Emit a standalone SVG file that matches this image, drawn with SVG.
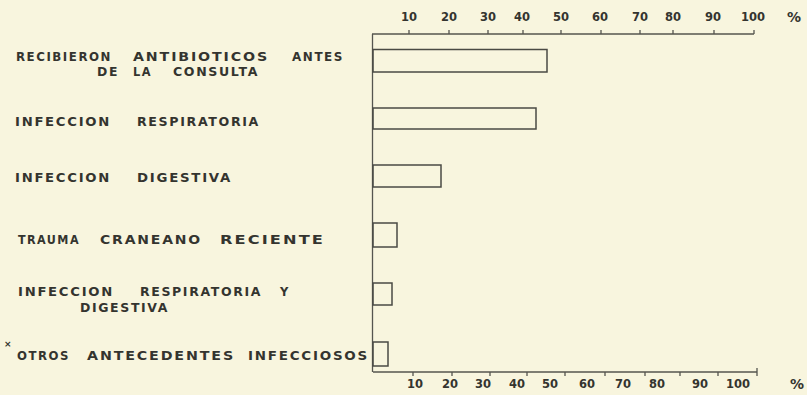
<svg xmlns="http://www.w3.org/2000/svg" width="807" height="395" viewBox="0 0 807 395">
<style>
.bg{fill:#f8f5de}
.lbl{font-family:"DejaVu Sans","Liberation Sans",sans-serif;font-weight:bold;font-size:11.5px;letter-spacing:1.5px;fill:#34342f}
.num{font-family:"DejaVu Sans","Liberation Sans",sans-serif;font-weight:bold;font-size:11.5px;fill:#34342f;text-anchor:middle}
.pct{font-family:"DejaVu Sans","Liberation Sans",sans-serif;font-weight:bold;font-size:14px;fill:#34342f;text-anchor:middle}
.bar{fill:none;stroke:#4a4a44;stroke-width:1.5}
.ax{fill:none;stroke:#55554f;stroke-width:1.3}
.ast{font-family:"DejaVu Sans",sans-serif;font-weight:bold;font-size:9px;fill:#34342f}
</style>
<rect class="bg" x="0" y="0" width="807" height="395"/>

<g id="axes">
  <path class="ax" d="M372.5,34 V372 M372,34 H754 M373,372 H757"/>
  <path class="ax" d="M409,34 v-4 M449,34 v-4 M488,34 v-4 M523,34 v-4 M561,34 v-4 M601,34 v-4 M640,34 v-4 M673,34 v-4 M714,34 v-4 M754,34 v-4"/>
  <path class="ax" d="M413,372 v4 M452,372 v4 M490,372 v4 M527,372 v4 M565,372 v4 M605,372 v4 M645,372 v4 M680,372 v4 M718,372 v4 M757,372 v-4 v8"/>
  <g id="top-scale">
    <text class="num" x="409" y="21">10</text>
    <text class="num" x="449" y="21">20</text>
    <text class="num" x="488" y="21">30</text>
    <text class="num" x="522" y="21">40</text>
    <text class="num" x="561" y="21">50</text>
    <text class="num" x="600" y="21">60</text>
    <text class="num" x="640" y="21">70</text>
    <text class="num" x="673" y="21">80</text>
    <text class="num" x="713" y="21">90</text>
    <text class="num" x="753" y="21">100</text>
    <text class="pct" x="794" y="22">%</text>
  </g>
  <g id="bottom-scale">
    <text class="num" x="415" y="388">10</text>
    <text class="num" x="450" y="388">20</text>
    <text class="num" x="483" y="388">30</text>
    <text class="num" x="517" y="388">40</text>
    <text class="num" x="550" y="388">50</text>
    <text class="num" x="587" y="388">60</text>
    <text class="num" x="623" y="388">70</text>
    <text class="num" x="657" y="388">80</text>
    <text class="num" x="700" y="388">90</text>
    <text class="num" x="738" y="388">100</text>
    <text class="pct" x="797" y="389">%</text>
  </g>
</g>

<g id="bar-antibioticos">
  <rect class="bar" x="373" y="49.5" width="174" height="22.5"/>
  <text class="lbl" y="61"><tspan x="16" textLength="96" lengthAdjust="spacingAndGlyphs">RECIBIERON</tspan><tspan x="133" textLength="136" lengthAdjust="spacingAndGlyphs">ANTIBIOTICOS</tspan><tspan x="292" textLength="52" lengthAdjust="spacingAndGlyphs">ANTES</tspan></text>
  <text class="lbl" y="76"><tspan x="97" textLength="22" lengthAdjust="spacingAndGlyphs">DE</tspan><tspan x="133" textLength="19" lengthAdjust="spacingAndGlyphs">LA</tspan><tspan x="173" textLength="86" lengthAdjust="spacingAndGlyphs">CONSULTA</tspan></text>
</g>

<g id="bar-respiratoria">
  <rect class="bar" x="373" y="108" width="163" height="21"/>
  <text class="lbl" y="126"><tspan x="15" textLength="96" lengthAdjust="spacingAndGlyphs">INFECCION</tspan><tspan x="137" textLength="123" lengthAdjust="spacingAndGlyphs">RESPIRATORIA</tspan></text>
</g>

<g id="bar-digestiva">
  <rect class="bar" x="373" y="165" width="68" height="22"/>
  <text class="lbl" y="182"><tspan x="15" textLength="96" lengthAdjust="spacingAndGlyphs">INFECCION</tspan><tspan x="137" textLength="95" lengthAdjust="spacingAndGlyphs">DIGESTIVA</tspan></text>
</g>

<g id="bar-trauma">
  <rect class="bar" x="373" y="223" width="24" height="24"/>
  <text class="lbl" y="244"><tspan x="18" textLength="62" lengthAdjust="spacingAndGlyphs">TRAUMA</tspan><tspan x="100" textLength="102" lengthAdjust="spacingAndGlyphs">CRANEANO</tspan><tspan x="220" textLength="105" lengthAdjust="spacingAndGlyphs">RECIENTE</tspan></text>
</g>

<g id="bar-resp-dig">
  <rect class="bar" x="373" y="283" width="19" height="22"/>
  <text class="lbl" y="296"><tspan x="18" textLength="96" lengthAdjust="spacingAndGlyphs">INFECCION</tspan><tspan x="140" textLength="122" lengthAdjust="spacingAndGlyphs">RESPIRATORIA</tspan><tspan x="280">Y</tspan></text>
  <text class="lbl" y="312"><tspan x="80" textLength="89" lengthAdjust="spacingAndGlyphs">DIGESTIVA</tspan></text>
</g>

<g id="bar-otros">
  <rect class="bar" x="373" y="342" width="15" height="24"/>
  <text class="ast" x="4" y="347">×</text>
  <text class="lbl" y="360"><tspan x="17" textLength="53" lengthAdjust="spacingAndGlyphs">OTROS</tspan><tspan x="87" textLength="148" lengthAdjust="spacingAndGlyphs">ANTECEDENTES</tspan><tspan x="248" textLength="121" lengthAdjust="spacingAndGlyphs">INFECCIOSOS</tspan></text>
</g>
</svg>
